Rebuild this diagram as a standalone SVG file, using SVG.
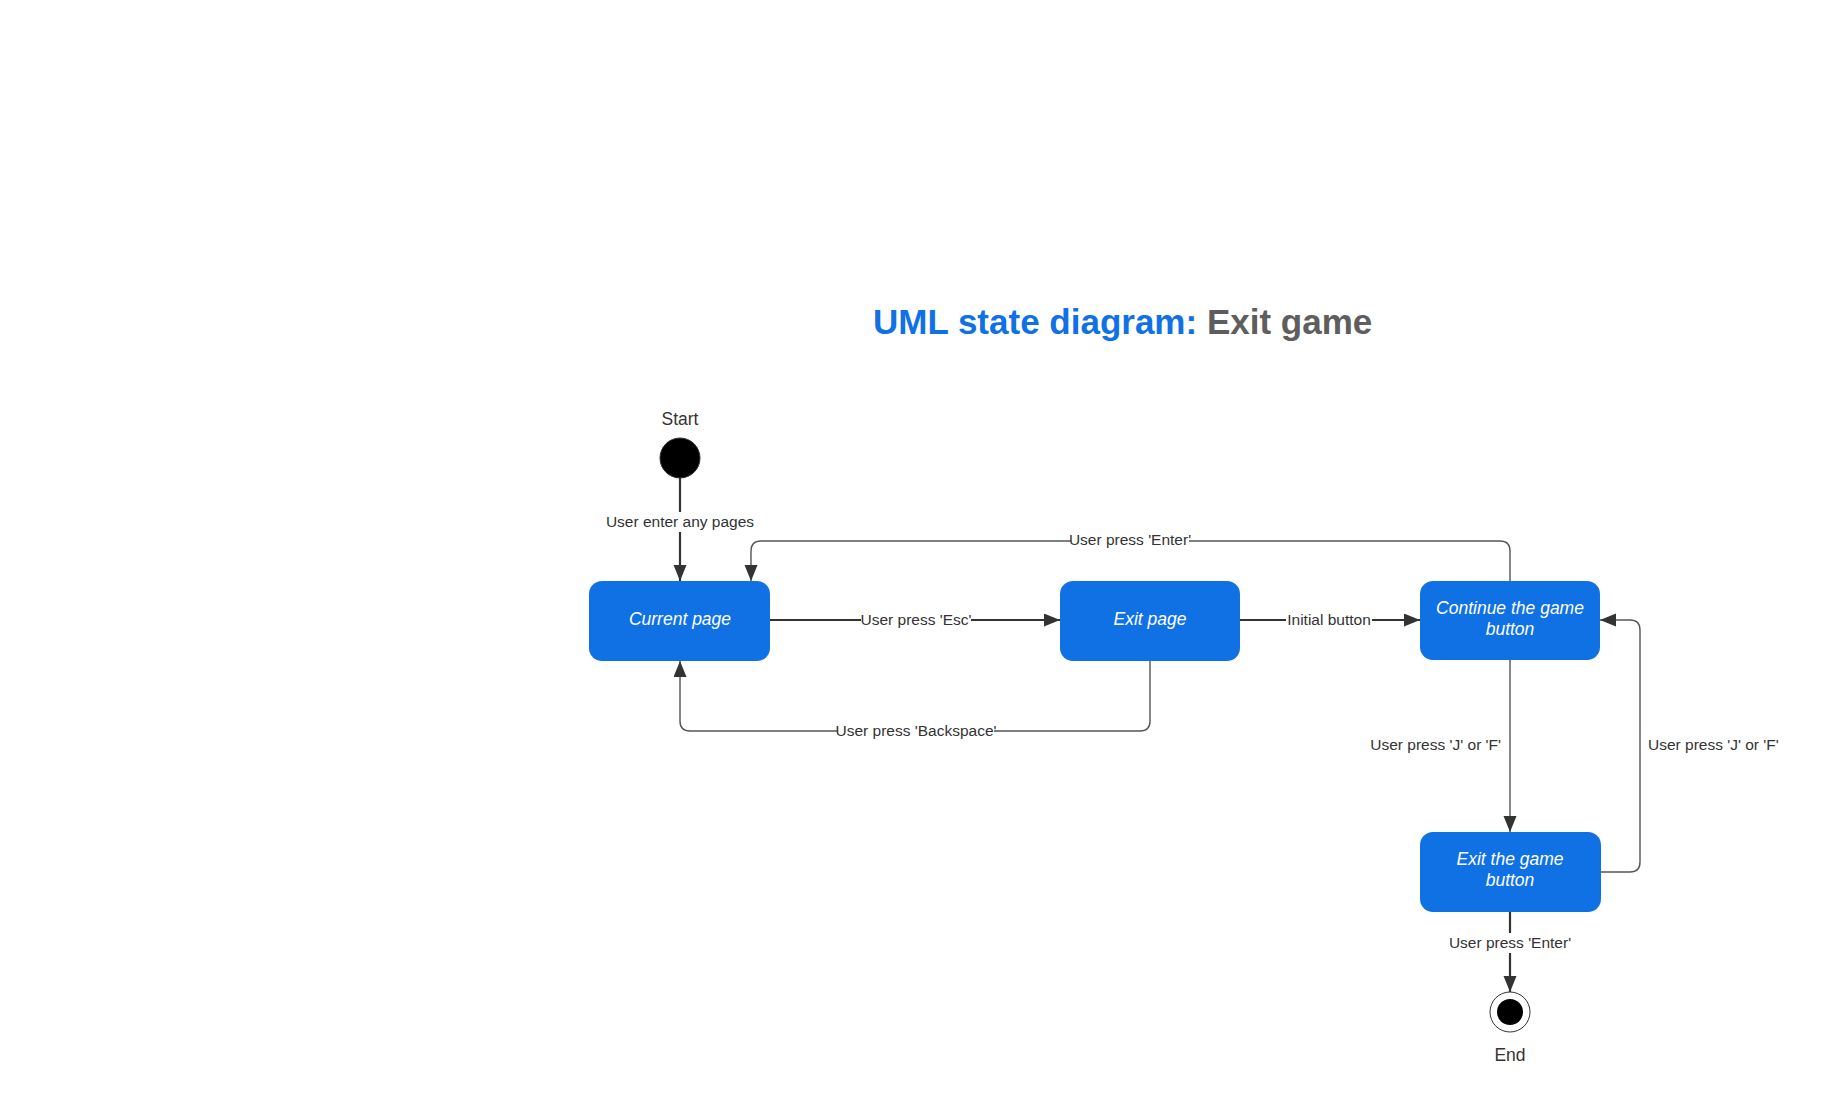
<svg xmlns="http://www.w3.org/2000/svg" width="1821" height="1116" viewBox="0 0 1821 1116">
<defs>
<style>
.node rect{fill:#1071e5;}
.nt{font-family:"Liberation Sans",Arial,sans-serif;font-size:17.5px;font-style:italic;fill:#ffffff;text-anchor:middle;}
.lbl{font-family:"Liberation Sans",Arial,sans-serif;font-size:15.5px;fill:#333333;}
.bg{fill:#ffffff;}
.thick{fill:none;stroke:#333333;stroke-width:2.2;}
.thin{fill:none;stroke:#555555;stroke-width:1.4;}
.cap{font-family:"Liberation Sans",Arial,sans-serif;font-size:17.5px;fill:#333333;text-anchor:middle;}
</style>
<marker id="ah" markerUnits="userSpaceOnUse" markerWidth="18" markerHeight="14" refX="16" refY="6.5" orient="auto">
<path d="M0,0 L16,6.5 L0,13 z" fill="#333333"/>
</marker>
</defs>
<rect width="1821" height="1116" fill="#ffffff"/>
<text x="873" y="334" font-family="Liberation Sans,Arial,sans-serif" font-size="35" font-weight="bold"><tspan fill="#1071e5">UML state diagram: </tspan><tspan fill="#5e5e5e">Exit game</tspan></text>

<g id="connectors">
<path class="thick" d="M680,478 L680,581" marker-end="url(#ah)"/>
<path class="thick" d="M770,620 L1060,620" marker-end="url(#ah)"/>
<path class="thick" d="M1240,620 L1420,620" marker-end="url(#ah)"/>
<path class="thin" d="M1150,661 L1150,721 Q1150,731 1140,731 L690,731 Q680,731 680,721 L680,661" marker-end="url(#ah)"/>
<path class="thin" d="M1510,581 L1510,551 Q1510,541 1500,541 L761,541 Q751,541 751,551 L751,581" marker-end="url(#ah)"/>
<path class="thin" d="M1510,660 L1510,832" marker-end="url(#ah)"/>
<path class="thin" d="M1600,872 L1630,872 Q1640,872 1640,862 L1640,630 Q1640,620 1630,620 L1600,620" marker-end="url(#ah)"/>
<path class="thick" d="M1510,912 L1510,992" marker-end="url(#ah)"/>

<rect class="bg" x="604" y="512" width="152" height="20"/>
<text class="lbl" x="680" y="527" text-anchor="middle">User enter any pages</text>
<rect class="bg" x="861" y="610" width="110" height="20"/>
<text class="lbl" x="916" y="624.5" text-anchor="middle">User press 'Esc'</text>
<rect class="bg" x="1286" y="610" width="86" height="20"/>
<text class="lbl" x="1329" y="624.5" text-anchor="middle">Initial button</text>
<rect class="bg" x="838" y="721" width="156" height="20"/>
<text class="lbl" x="916" y="735.5" text-anchor="middle">User press 'Backspace'</text>
<rect class="bg" x="1071" y="530" width="118" height="20"/>
<text class="lbl" x="1130" y="544.5" text-anchor="middle">User press 'Enter'</text>
<text class="lbl" x="1501" y="750" text-anchor="end">User press 'J' or 'F'</text>
<text class="lbl" x="1648" y="750">User press 'J' or 'F'</text>
<rect class="bg" x="1450" y="933" width="120" height="20"/>
<text class="lbl" x="1510" y="948" text-anchor="middle">User press 'Enter'</text>
</g>

<g id="start">
<text class="cap" x="680" y="425">Start</text>
<circle cx="680" cy="458" r="20" fill="#000000" stroke="#333333" stroke-width="1"/>
</g>
<g id="current-page" class="node">
<rect x="589" y="581" width="181" height="80" rx="13"/>
<text class="nt" x="680" y="625">Current page</text>
</g>
<g id="exit-page" class="node">
<rect x="1060" y="581" width="180" height="80" rx="13"/>
<text class="nt" x="1150" y="625">Exit page</text>
</g>
<g id="continue-button" class="node">
<rect x="1420" y="581" width="180" height="79" rx="13"/>
<text class="nt" x="1510" y="614">Continue the game</text>
<text class="nt" x="1510" y="635">button</text>
</g>
<g id="exit-game-button" class="node">
<rect x="1420" y="832" width="181" height="80" rx="13"/>
<text class="nt" x="1510" y="865">Exit the game</text>
<text class="nt" x="1510" y="886">button</text>
</g>
<g id="end">
<circle cx="1510" cy="1012" r="20" fill="#ffffff" stroke="#333333" stroke-width="1"/>
<circle cx="1510" cy="1012" r="13" fill="#000000"/>
<text class="cap" x="1510" y="1061">End</text>
</g>
</svg>
